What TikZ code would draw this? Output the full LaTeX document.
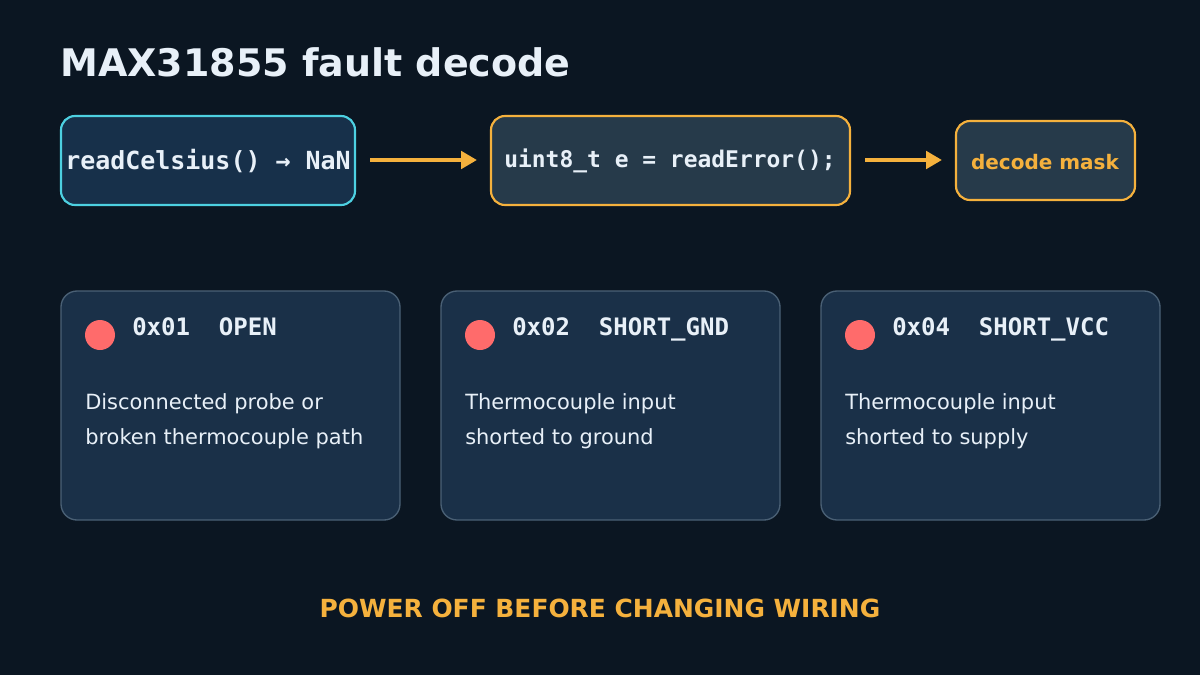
\documentclass[tikz,border=0pt]{standalone}
\usepackage{fontspec}
\usetikzlibrary{arrows.meta}
\setmainfont{DejaVu Sans}
\newfontfamily\monof{DejaVu Sans Mono}
\definecolor{bg}{HTML}{0B1622}
\definecolor{fa}{HTML}{17304A}
\definecolor{fb}{HTML}{263A4A}
\definecolor{fc}{HTML}{1A3048}
\definecolor{cy}{HTML}{4DD0E1}
\definecolor{or}{HTML}{F5B13D}
\definecolor{cs}{HTML}{4A6075}
\definecolor{rd}{HTML}{FF6B6B}
\definecolor{tx}{HTML}{E8F0F8}
\begin{document}
\begin{tikzpicture}[x=0.75pt,y=-0.75pt,
 box/.style={rounded corners=10.5pt,line width=1.6pt},
 card/.style={rounded corners=12pt,draw=cs,fill=fc,line width=1pt},
 arr/.style={draw=or,line width=3pt,-{Triangle[length=12pt,width=13pt]}},
 lbl/.style={anchor=base west,text=tx,inner sep=0}]
\fill[bg] (0,0) rectangle (1200,675);
\useasboundingbox (0,0) rectangle (1200,675);
\node[lbl,font=\bfseries\fontsize{28.5}{32}\selectfont] (title) at (60,76) {MAX31855 fault decode};
\draw[box,draw=cy,fill=fa] (61,116) rectangle (355,205);
\node[text=tx,font=\monof\bfseries\fontsize{18.7}{20}\selectfont] (a) at (208,161) {readCelsius() → NaN};
\draw[box,draw=or,fill=fb] (491,116) rectangle (850,205);
\node[text=tx,font=\monof\bfseries\fontsize{17.2}{20}\selectfont] (b) at (670,161) {uint8\_t e = readError();};
\draw[box,draw=or,fill=fb] (956,121) rectangle (1135,200);
\node[text=or,font=\bfseries\fontsize{15}{16}\selectfont] (c) at (1045,162) {decode mask};
\coordinate (a1) at (370,160); \coordinate (a2) at (477,160);
\coordinate (b1) at (865,160); \coordinate (b2) at (942,160);
\draw[arr] (a1) -- (a2);
\draw[arr] (b1) -- (b2);
\foreach \x/\code/\la/\lb [count=\i] in {61/{0x01\ \ OPEN}/{Disconnected probe or}/{broken thermocouple path},441/{0x02\ \ SHORT\_GND}/{Thermocouple input}/{shorted to ground},821/{0x04\ \ SHORT\_VCC}/{Thermocouple input}/{shorted to supply}}{
 \draw[card] (\x,291) rectangle ++(339,229);
 \fill[rd] (\x+39,335) circle (15);
 \node[lbl,font=\monof\bfseries\fontsize{18}{22}\selectfont] (h\i) at (\x+71,335) {\code};
 \node[lbl,font=\fontsize{15.7}{18}\selectfont] (p\i) at (\x+24,409) {\la};
 \node[lbl,font=\fontsize{15.7}{18}\selectfont] (q\i) at (\x+24,444) {\lb};
}
\node[text=or,font=\bfseries\fontsize{18.7}{20}\selectfont] (foot) at (600,608) {POWER OFF BEFORE CHANGING WIRING};
\end{tikzpicture}
\end{document}
